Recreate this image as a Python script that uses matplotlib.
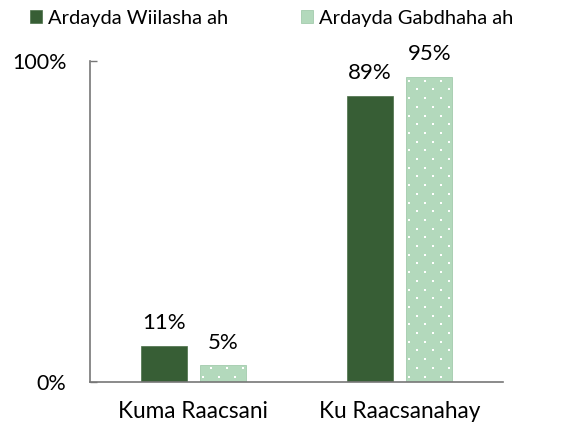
import matplotlib
matplotlib.use("Agg")
import matplotlib.pyplot as plt
import numpy as np

plt.rcParams['font.family'] = ['Lato', 'DejaVu Sans']

categories = ["Kuma Raacsani", "Ku Raacsanahay"]
series_names = ["Ardayda Wiilasha ah", "Ardayda Gabdhaha ah"]
boys = [11, 89]
girls = [5, 95]
yticks = [0, 100]
ytick_labels = ["0%", "100%"]

dark = "#375E35"
light = "#B3D9BC"

W, H = 571, 425
fig = plt.figure(figsize=(W/100, H/100), dpi=100)
ax_l, ax_r, ax_b, ax_t = 90, 503, 381.5, 61
ax = fig.add_axes([ax_l/W, 1-ax_b/H, (ax_r-ax_l)/W, (ax_b-ax_t)/H])

x = np.arange(len(categories))
w = 0.223
off = 0.143
xlim = (-0.5, 1.5)
ylim = (0, 100)
ax.set_xlim(*xlim)
ax.set_ylim(*ylim)

b1 = ax.bar(x - off, boys, w, color=dark, edgecolor="#4a7048", linewidth=0.5, label=series_names[0])
b2 = ax.bar(x + off, girls, w, color=light, edgecolor="#a3cbad", linewidth=0.6, label=series_names[1])

# dotted pattern on the light bars
dxu = (xlim[1]-xlim[0]) / (ax_r-ax_l)   # data units per pixel in x
dyu = (ylim[1]-ylim[0]) / (ax_b-ax_t)   # data units per pixel in y
for rect in b2.patches:
    x0, y0 = rect.get_x(), rect.get_y()
    bw, bh = rect.get_width(), rect.get_height()
    pts = []
    j = 0
    yy = y0 + 5*dyu
    while yy < y0 + bh:
        start = 3 if j % 2 == 0 else 11
        xx = x0 + start*dxu
        while xx < x0 + bw:
            pts.append((xx, yy))
            xx += 16*dxu
        yy += 8.7*dyu
        j += 1
    if pts:
        pts = np.array(pts)
        sc = ax.scatter(pts[:, 0], pts[:, 1], s=2.2, marker="s", color="white", linewidths=0, zorder=3)
        sc.set_clip_path(rect)

for xi, v in zip(x - off, boys):
    ax.text(xi, v + 4.0, f"{v}%", ha="center", va="bottom", fontsize=16)
for xi, v in zip(x + off, girls):
    ax.text(xi, v + 4.0, f"{v}%", ha="center", va="bottom", fontsize=16)

ax.set_yticks(yticks)
ax.set_yticklabels(ytick_labels, fontsize=15.5)
ax.set_xticks(x)
ax.set_xticklabels(categories, fontsize=16.3)
ax.tick_params(axis="x", length=0, pad=14)
ax.tick_params(axis="y", direction="in", length=5, width=1.0, pad=17, color="#777777")
ax.spines["top"].set_visible(False)
ax.spines["right"].set_visible(False)
for s in ("left", "bottom"):
    ax.spines[s].set_color("#777777")
    ax.spines[s].set_linewidth(1.2)

leg = fig.legend(handles=[b1, b2], labels=series_names, loc="upper center",
                 bbox_to_anchor=(0.476, 1.02), ncol=2, frameon=False, fontsize=14.5,
                 handlelength=0.6, handleheight=0.6, handletextpad=0.3, columnspacing=3.6)

fig.savefig("out.png", dpi=100)
